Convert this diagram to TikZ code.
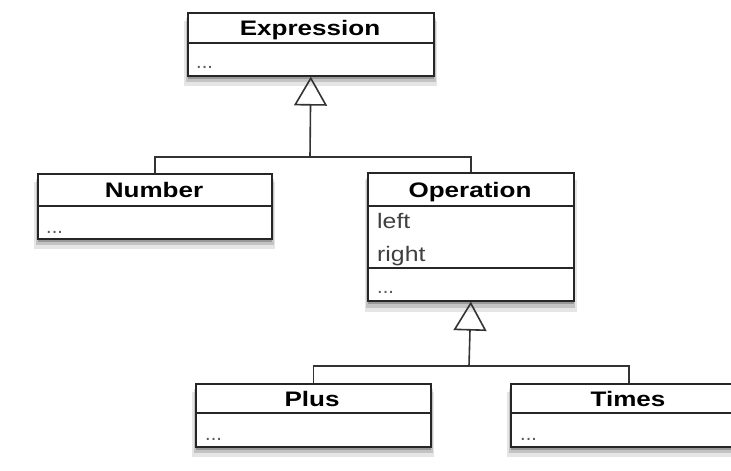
\documentclass[tikz,border=0pt]{standalone}
\usepackage{fontspec}
\setmainfont{Liberation Sans}
\usetikzlibrary{arrows.meta,shadows}
\tikzset{
  cls/.style={draw=black!85, line width=1.6pt, fill=white, rectangle, inner sep=0pt,
    anchor=north west,
    drop shadow={fill=black, opacity=0.10, shadow xshift=0pt, shadow yshift=-9pt, shadow scale=1.03},
    drop shadow={fill=black, opacity=0.15, shadow xshift=0pt, shadow yshift=-6pt, shadow scale=1.015},
    drop shadow={fill=black, opacity=0.22, shadow xshift=0pt, shadow yshift=-3pt}},
  divider/.style={draw=black!85, line width=1.4pt},
  title/.style={font=\fontsize{21}{24}\selectfont\bfseries, xscale=1.24, transform shape, inner sep=0pt, anchor=base},
  attr/.style={font=\fontsize{21}{24}\selectfont, text=black!75, xscale=1.18, transform shape, inner sep=0pt, anchor=base west},
  dots/.style={font=\fontsize{20}{24}\selectfont, text=black!65, inner sep=0pt, anchor=base west},
  link/.style={draw=black!80, line width=1.6pt},
  inherit/.style={link, -{Triangle[open, length=29pt, width=33pt, line width=1.6pt]}},
}
\begin{document}
\begin{tikzpicture}[x=1pt, y=-1pt]
\useasboundingbox (0,0) rectangle (731,471);
% Expression
\node[cls, minimum width=246pt, minimum height=63pt] (expr) at (187,12) {};
\node[title] (exprT) at (310,35) {Expression};
\draw[divider] (187,43) coordinate (ed1) -- (433,43) coordinate (ed2);
\node[dots] (exprD) at (196,68) {...};
% Number
\node[cls, minimum width=234pt, minimum height=65pt] (num) at (37,173) {};
\node[title] (numT) at (154,197) {Number};
\draw[divider] (37,206) coordinate (nd1) -- (271,206) coordinate (nd2);
\node[dots] (numD) at (46,233) {...};
% Operation
\node[cls, minimum width=206pt, minimum height=128pt] (op) at (367,172) {};
\node[title] (opT) at (470,197) {Operation};
\draw[divider] (367,206) coordinate (od1) -- (573,206) coordinate (od2);
\node[attr] (opL) at (377,228) {left};
\node[attr] (opR) at (377,261) {right};
\draw[divider] (367,268) coordinate (od3) -- (573,268) coordinate (od4);
\node[dots] (opD) at (377,293) {...};
% Plus
\node[cls, minimum width=235pt, minimum height=63pt] (plus) at (195,383) {};
\node[title] (plusT) at (312,406) {Plus};
\draw[divider] (195,413) coordinate (pd1) -- (430,413) coordinate (pd2);
\node[dots] (plusD) at (205,440) {...};
% Times
\node[cls, minimum width=236pt, minimum height=63pt] (times) at (510,383) {};
\node[title] (timesT) at (628,406) {Times};
\draw[divider] (510,413) coordinate (td1) -- (746,413) coordinate (td2);
\node[dots] (timesD) at (520,440) {...};
% connectors
\coordinate (j1) at (310,157);
\coordinate (j2) at (469,366);
\draw[link] (num.north) |- (j1) -| (op.north);
\draw[inherit] (j1) -- (expr.south);
\draw[link] (plus.north) |- (j2) -| (times.north);
\draw[inherit] (j2) -- (op.south);
\end{tikzpicture}
\end{document}
